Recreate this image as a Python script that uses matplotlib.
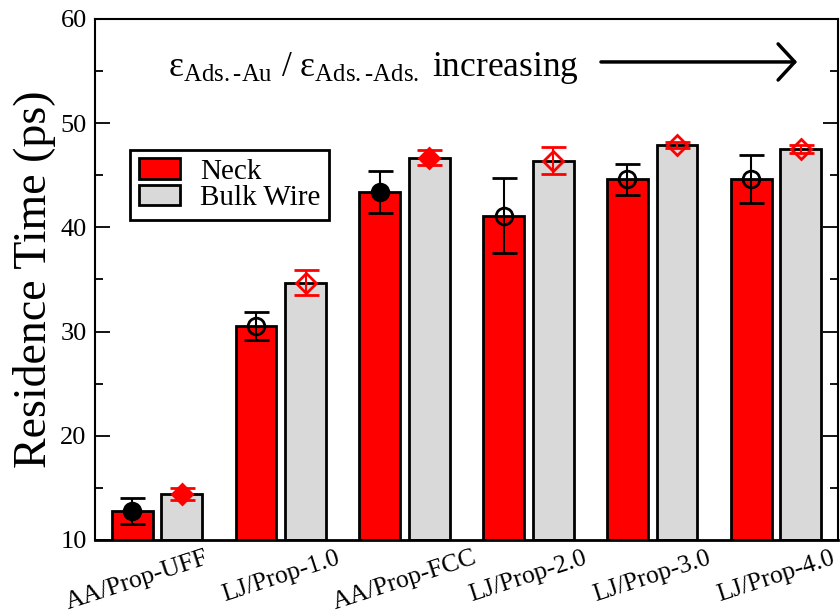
import numpy as np
import matplotlib
matplotlib.use('Agg')
import matplotlib.pyplot as plt
from matplotlib.ticker import MultipleLocator
from matplotlib.transforms import ScaledTranslation

plt.rcParams['font.family'] = 'Liberation Serif'
plt.rcParams['mathtext.fontset'] = 'custom'
plt.rcParams['mathtext.rm'] = 'Liberation Serif'
plt.rcParams['mathtext.it'] = 'Liberation Serif:italic'

# systems, left to right
labels = ['AA/Prop-UFF', 'LJ/Prop-1.0', 'AA/Prop-FCC',
          'LJ/Prop-2.0', 'LJ/Prop-3.0', 'LJ/Prop-4.0']
# all-atom runs get filled markers, LJ runs open ones
all_atom = [True, False, True, False, False, False]

# residence time (ps)
neck = [12.8, 30.5, 43.4, 41.1, 44.6, 44.6]
neck_err = [1.25, 1.35, 2.0, 3.6, 1.5, 2.3]
bulk = [14.4, 34.7, 46.7, 46.4, 47.9, 47.5]
bulk_err = [0.6, 1.2, 0.7, 1.3, 0.3, 0.4]

base = 10
x = np.arange(len(labels))

fig = plt.figure(figsize=(8.4, 6.16), dpi=100)
ax = fig.add_axes([0.1131, 0.1234, 0.8845, 0.8458])

ax.bar(x - 0.2, np.array(neck) - base, bottom=base, width=0.33,
       color='#ff0000', edgecolor='black', linewidth=2, label='Neck', zorder=2)
ax.bar(x + 0.2, np.array(bulk) - base, bottom=base, width=0.33,
       color='#d9d9d9', edgecolor='black', linewidth=2, label='Bulk Wire', zorder=2)

for i in range(len(labels)):
    fill_k = 'black' if all_atom[i] else 'none'
    fill_r = 'red' if all_atom[i] else 'none'
    ax.errorbar(x[i] - 0.2, neck[i], yerr=neck_err[i], fmt='o', ms=12,
                mfc=fill_k, mec='black', mew=2, ecolor='black',
                elinewidth=1.5, capsize=9, capthick=1.5, zorder=4)
    ax.errorbar(x[i] + 0.2, bulk[i], yerr=bulk_err[i], fmt='D', ms=10.5,
                mfc=fill_r, mec='red', mew=2, ecolor='red',
                elinewidth=1.5, capsize=9, capthick=1.5, zorder=4)

ax.set_xlim(-0.5, 5.5)
ax.set_ylim(10, 60)
ax.set_xticks(x, labels, rotation=18, fontsize=18.5)
ax.tick_params(axis='x', length=0, pad=5)
ax.set_yticks(np.arange(10, 61, 10))
ax.yaxis.set_minor_locator(MultipleLocator(5))
ax.tick_params(axis='y', which='both', direction='in', right=True, labelsize=19, pad=6)
ax.tick_params(axis='y', which='major', length=11, width=1.3)
ax.tick_params(axis='y', which='minor', length=6, width=1.3)
ax.set_ylabel('Residence Time (ps)', fontsize=33, labelpad=3)

for s in ax.spines.values():
    s.set_linewidth(1.5)
ax.spines['bottom'].set_linewidth(2)

# first label sits a bit left of its group
lab0 = ax.get_xticklabels()[0]
lab0.set_transform(lab0.get_transform() + ScaledTranslation(-0.2, 0, fig.dpi_scale_trans))

leg = ax.legend(loc='upper left', bbox_to_anchor=(0.047, 0.749), fancybox=False,
                edgecolor='black', framealpha=1, fontsize=21, handlelength=1.4,
                handleheight=0.7, handletextpad=0.7, labelspacing=0.0,
                borderpad=0.3, borderaxespad=0)
leg.get_frame().set_linewidth(2)

ax.text(0.098, 0.89,
        r'$\mathrm{\varepsilon}_{\mathrm{Ads.‐Au}}$ / $\mathrm{\varepsilon}_{\mathrm{Ads.‐Ads.}}$ increasing',
        transform=ax.transAxes, fontsize=25.5, va='baseline')
ax.annotate('', xy=(0.945, 0.9175), xytext=(0.681, 0.9175), xycoords='axes fraction',
            arrowprops=dict(arrowstyle='->,head_length=0.6,head_width=0.65', lw=2.5,
                            color='black', shrinkA=0, shrinkB=0, mutation_scale=20))

fig.savefig('out.png', dpi=100)
